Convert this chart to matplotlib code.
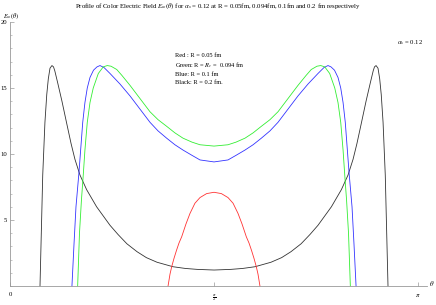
""" Profile of colour electric field for several bag radii """

import numpy as np
import matplotlib.pyplot as plt
from matplotlib.ticker import MultipleLocator

theta_red = [1.217, 1.232, 1.245, 1.263, 1.282, 1.301, 1.322, 1.355, 1.386,
             1.424, 1.463, 1.514, 1.571]
field_red = [0.0, 0.9, 1.46, 2.1, 2.7, 3.25, 3.73, 4.7, 5.5,
             6.27, 6.7, 7.0, 7.1]

theta_green = [0.521, 0.535, 0.550, 0.564, 0.577, 0.595, 0.616, 0.641, 0.680,
               0.718, 0.749, 0.778, 0.822, 0.862, 0.924, 1.001, 1.078, 1.140,
               1.206, 1.270, 1.332, 1.401, 1.463, 1.571]
field_green = [0.0, 4.0, 6.5, 8.4, 10.3, 12.4, 13.9, 15.0, 16.1,
               16.6, 16.7, 16.65, 16.4, 15.95, 15.2, 14.2, 13.2, 12.6,
               12.1, 11.6, 11.2, 10.9, 10.7, 10.6]

theta_blue = [0.477, 0.493, 0.508, 0.531, 0.560, 0.577, 0.595, 0.616, 0.643,
              0.670, 0.693, 0.724, 0.770, 0.847, 0.924, 1.001, 1.078, 1.140,
              1.206, 1.270, 1.332, 1.401, 1.463, 1.571]
field_blue = [0.0, 3.2, 6.0, 8.6, 12.4, 13.9, 15.0, 15.8, 16.35,
              16.6, 16.7, 16.55, 16.1, 15.3, 14.4, 13.4, 12.4, 11.75,
              11.2, 10.7, 10.3, 9.9, 9.55, 9.4]

theta_black = [0.231, 0.241, 0.252, 0.269, 0.283, 0.295, 0.308, 0.323, 0.335,
               0.345, 0.367, 0.400, 0.437, 0.470, 0.500, 0.539, 0.590, 0.667,
               0.770, 0.832, 0.900, 0.978, 1.050, 1.132, 1.255, 1.350, 1.440,
               1.571]
field_black = [0.0, 4.0, 8.4, 12.4, 14.5, 15.7, 16.5, 16.7, 16.6,
               16.3, 15.4, 14.0, 12.3, 10.8, 9.6, 8.4, 7.3, 6.0,
               4.6, 3.9, 3.2, 2.6, 2.15, 1.8, 1.46, 1.33, 1.26,
               1.21]

legend_lines = ['Red : R = 0.05 fm', r'Green: R = $R_c$ =  0.094 fm',
                'Blue: R = 0.1 fm', 'Black: R = 0.2 fm.']


def mirror(th, vals):
    th = np.array(th)
    vals = np.array(vals)
    return (np.concatenate([th, np.pi - th[-2::-1]]),
            np.concatenate([vals, vals[-2::-1]]))


def main():
    plt.rcParams['font.family'] = ['Liberation Serif', 'DejaVu Serif']
    plt.rcParams['mathtext.fontset'] = 'stix'

    fig = plt.figure(figsize=(4.36, 3.05), dpi=100)
    W, H = 436, 305
    x0, xpi, xend = 10, 418, 427
    y0, y20 = 286, 22
    ax = fig.add_axes([x0 / W, (H - y0) / H, (xend - x0) / W, (y0 - y20) / H])
    ax.set_xlim(0, np.pi * (xend - x0) / (xpi - x0))
    ax.set_ylim(0, 20)

    for th, vals, col in [(theta_black, field_black, '#333333'),
                          (theta_blue, field_blue, '#3333ff'),
                          (theta_green, field_green, '#33ee33'),
                          (theta_red, field_red, '#ff3333')]:
        xs, ys = mirror(th, vals)
        ax.plot(xs, ys, color=col, lw=0.6, clip_on=False,
                solid_joinstyle='round')

    for side in ['top', 'right']:
        ax.spines[side].set_visible(False)
    for side in ['left', 'bottom']:
        ax.spines[side].set_color('#999999')
        ax.spines[side].set_linewidth(0.6)

    ax.set_xticks([0, np.pi / 2, np.pi])
    ax.set_xticklabels(['0', r'$\frac{\pi}{2}$', r'$\pi$'])
    ax.set_yticks([5, 10, 15, 20])
    ax.yaxis.set_minor_locator(MultipleLocator(1))
    ax.tick_params(direction='in', length=3, width=0.5, color='#999999',
                   labelsize=4.8, pad=2)
    ax.tick_params(which='minor', direction='in', length=1.5, width=0.4,
                   color='#999999')
    ax.tick_params(axis='x', pad=4)
    ax.patch.set_visible(False)

    fig.text(0.5, 1 - 6 / H, r'Profile of Color Electric Field $E_\omega(\theta)$ for '
             r'$\alpha_s$ = 0.12 at R = 0.05fm, 0.094fm, 0.1fm and 0.2 fm respectively',
             ha='center', va='center', fontsize=4.9)
    fig.text(3 / W, 1 - 16 / H, r'$E_\omega(\theta)$', fontsize=4.6, va='center')
    fig.text(432 / W, 1 - 284 / H, r'$\theta$', fontsize=5, va='center', ha='center')
    fig.text(397 / W, 1 - 43 / H, r'$\alpha_s$ = 0.12', fontsize=4.8, va='center')
    for i, line in enumerate(legend_lines):
        fig.text(175 / W, 1 - (56 + i * 9) / H, line, fontsize=4.6, va='center')

    fig.savefig('out.png', dpi=100)


if __name__ == '__main__':
    main()
